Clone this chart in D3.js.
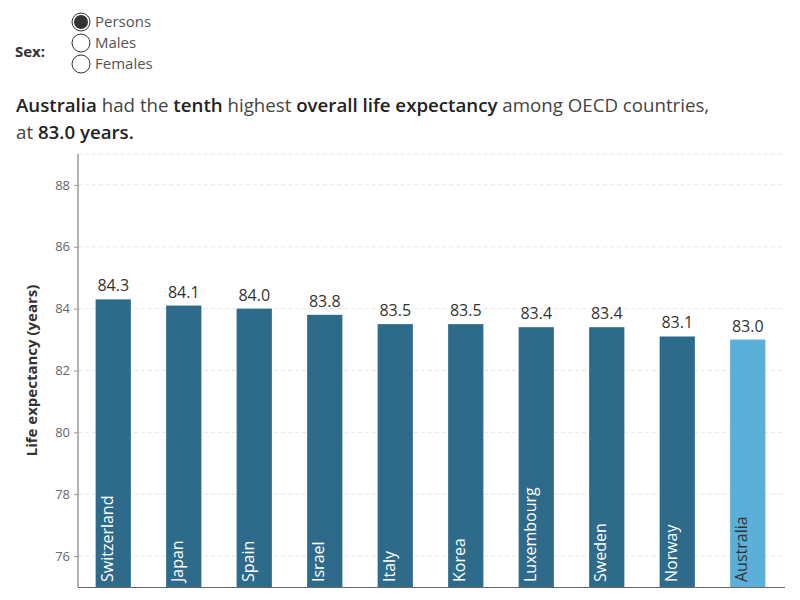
<!DOCTYPE html>
<html><head><meta charset="utf-8">
<script src="https://cdn.jsdelivr.net/npm/d3@7"></script>
<style>body{margin:0;background:#fff;}svg{display:block;font-family:"Open Sans","Noto Sans",sans-serif;}</style>
</head><body>
<svg id="c" width="800" height="600"></svg>
<script>
const countries = ["Switzerland","Japan","Spain","Israel","Italy","Korea","Luxembourg","Sweden","Norway","Australia"];
const values = [84.3,84.1,84.0,83.8,83.5,83.5,83.4,83.4,83.1,83.0];
const yTicks = [76,78,80,82,84,86,88];
const sexOptions = ["Persons","Males","Females"];
const highlight = "Australia";

const svg = d3.select("#c");
const m = {left:78, right:783, top:154, bottom:587};

// Filter control
svg.append("text").attr("x",15).attr("y",57).attr("font-size",15).attr("font-weight","bold").attr("fill","#333").text("Sex:");
sexOptions.forEach((s,i)=>{
  const cy = 22 + i*21;
  svg.append("circle").attr("cx",81).attr("cy",cy).attr("r",9).attr("fill","#fff").attr("stroke","#333").attr("stroke-width",1);
  if(i===0) svg.append("circle").attr("cx",81).attr("cy",cy).attr("r",7).attr("fill","#333");
  svg.append("text").attr("x",95).attr("y",cy+5).attr("font-size",15).attr("fill","#555").text(s);
});

// Title
const t1 = svg.append("text").attr("x",16).attr("y",112).attr("font-size",18.7).attr("fill","#333");
[["Australia",1],[" had the ",0],["tenth",1],[" highest ",0],["overall life expectancy",1],[" among OECD countries,",0]].forEach(([s,b])=>{
  t1.append("tspan").attr("font-weight",b?"600":"normal").attr("fill",b?"#222":"#444").text(s);
});
const t2 = svg.append("text").attr("x",16).attr("y",139).attr("font-size",18.7).attr("fill","#333");
[["at ",0],["83.0 years.",1]].forEach(([s,b])=>{
  t2.append("tspan").attr("font-weight",b?"600":"normal").attr("fill",b?"#222":"#444").text(s);
});

const x = d3.scaleBand().domain(countries).range([m.left,m.right]).paddingInner(0.5).paddingOuter(0.25);
const y = d3.scaleLinear().domain([75,89]).range([m.bottom,m.top]);

// grid
svg.append("g").selectAll("line").data(yTicks.concat([89])).join("line")
  .attr("x1",m.left).attr("x2",m.right).attr("y1",d=>y(d)).attr("y2",d=>y(d))
  .attr("stroke","#e6e6e6").attr("stroke-dasharray","4,3");

// bars
svg.append("g").selectAll("rect").data(countries).join("rect")
  .attr("x",d=>x(d)).attr("width",x.bandwidth())
  .attr("y",(d,i)=>y(values[i])).attr("height",(d,i)=>m.bottom-y(values[i]))
  .attr("fill",d=>d===highlight?"#5bafd9":"#2e6b8a");

// value labels
svg.append("g").selectAll("text").data(countries).join("text")
  .attr("x",d=>x(d)+x.bandwidth()/2).attr("y",(d,i)=>y(values[i])-8)
  .attr("text-anchor","middle").attr("font-size",16).attr("fill","#333")
  .text((d,i)=>values[i].toFixed(1));

// country labels
svg.append("g").selectAll("text").data(countries).join("text")
  .attr("transform",d=>`translate(${x(d)+17},${m.bottom-5}) rotate(-90)`)
  .attr("font-size",16).attr("fill",d=>d===highlight?"#333":"#fff")
  .text(d=>d);

// axes
const ya = svg.append("g").attr("transform",`translate(${m.left},0)`)
  .call(d3.axisLeft(y).tickValues(yTicks).tickSize(4).tickPadding(4));
ya.select(".domain").attr("d",`M0,${m.top}V${m.bottom}`).attr("stroke","#666");
ya.selectAll(".tick line").attr("stroke","#999");
ya.selectAll(".tick text").attr("font-size",13).attr("fill","#666").attr("font-family","'Open Sans',sans-serif");

svg.append("line").attr("x1",m.left).attr("x2",m.right+2).attr("y1",m.bottom+0.5).attr("y2",m.bottom+0.5).attr("stroke","#666");

svg.append("text").attr("transform",`translate(37,${(m.top+m.bottom)/2}) rotate(-90)`)
  .attr("text-anchor","middle").attr("font-size",15).attr("font-weight","bold").attr("fill","#333")
  .text("Life expectancy (years)");
</script>
</body></html>
